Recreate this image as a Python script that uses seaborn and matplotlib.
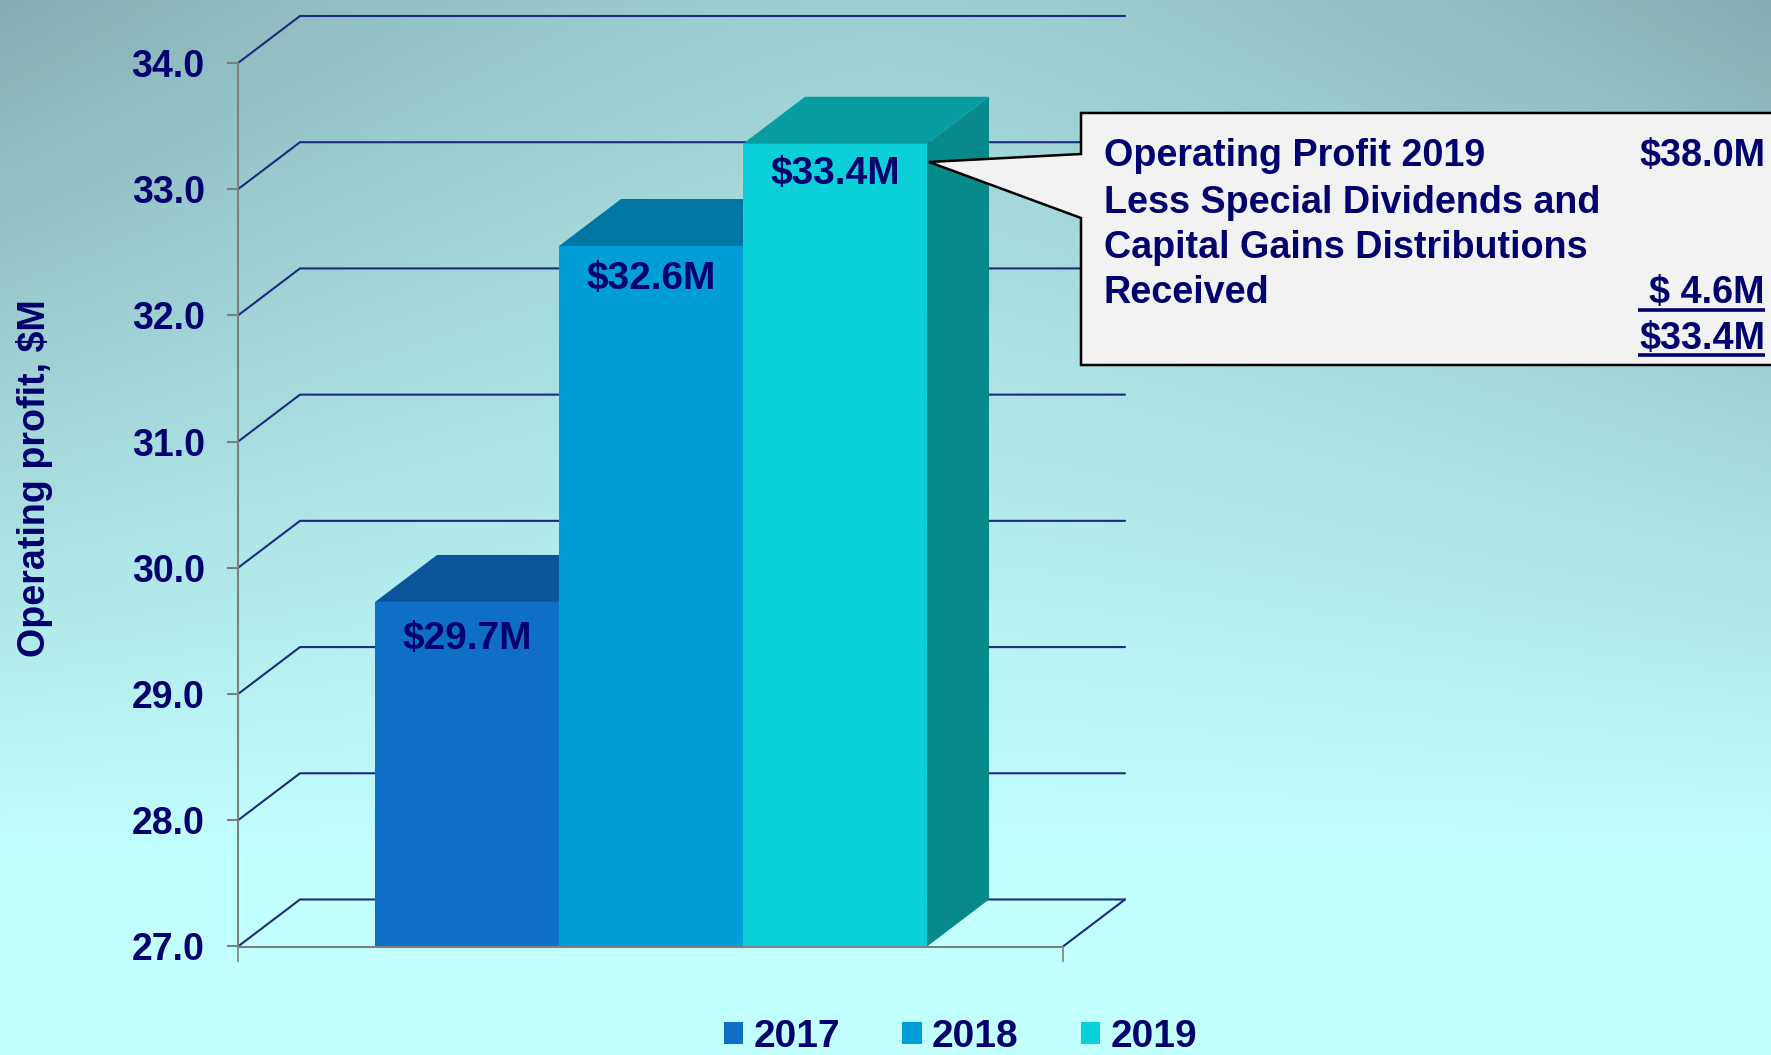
import numpy as np
import pandas as pd
import matplotlib
matplotlib.use('Agg')
import matplotlib.pyplot as plt
from matplotlib.patches import Patch, Polygon
import seaborn as sns

years = ['2017', '2018', '2019']
profit = [29.73, 32.55, 33.36]
bar_labels = ['$29.7M', '$32.6M', '$33.4M']
y_ticks = [27, 28, 29, 30, 31, 32, 33, 34]
front_colors = ['#0f6fc6', '#009dd9', '#0bd0d9']
top_colors = ['#0a5599', '#0076a3', '#089ca3']
side_color = '#088a8d'
navy = '#00006e'
grid_color = '#1c2a80'
axis_gray = '#7f7f7f'

callout_left = ['Operating Profit 2019', 'Less Special Dividends and', 'Capital Gains Distributions', 'Received']
callout_right = ['$38.0M', '', '', '$ 4.6M', '$33.4M']

sns.set_theme(style='white')
plt.rcParams['font.family'] = ['Liberation Sans', 'DejaVu Sans']

W, H = 1771, 1055
fig = plt.figure(figsize=(W / 100, H / 100), dpi=100)

# background gradient, dark in the top corners and pale towards the bottom
bg = fig.add_axes([0, 0, 1, 1], zorder=0)
xx, yy = np.meshgrid(np.arange(W), np.arange(H))
v_part = np.clip(1 - yy / 850, 0, 1)
u_part = np.abs(xx - 885) / 885
t = (v_part * (0.6 + 0.4 * u_part ** 1.5))[..., None]
pale = np.array([194, 255, 255]) / 255
dark = np.array([132, 174, 179]) / 255
bg.imshow(pale + (dark - pale) * t, aspect='auto', interpolation='bilinear')
bg.axis('off')

# main axes
ax = fig.add_axes([238 / W, 1 - 946.5 / H, 825 / W, 883.5 / H], zorder=1)
ax.patch.set_alpha(0)

df = pd.DataFrame({'year': years, 'profit': profit})
sns.barplot(data=df, x='year', y='profit', hue='year', palette=front_colors, hue_order=years,
            width=1, dodge=False, legend=False, saturation=1, ax=ax)

x_left = -1.245
x_right = 3.239
dx = 62 / 184
dy = 47 / 126.2
ax.set_xlim(x_left, x_right)
ax.set_ylim(27, 34)

# back wall lines
for v in y_ticks:
    ax.plot([x_left, x_left + dx, x_right + dx], [v, v + dy, v + dy], color=grid_color, lw=1.5,
            clip_on=False, zorder=1, solid_joinstyle='miter')
ax.plot([x_right + dx, x_right], [27 + dy, 27], color=grid_color, lw=1.5, clip_on=False, zorder=1)

# 3d faces, each bar sits over the top of the one before
label_drop = [0.29, 0.26, 0.24]
for i, container in enumerate(ax.containers):
    for bar in container:
        bar.set_zorder(2 * i + 3)
        bar.set_linewidth(0)
    v = profit[i]
    ax.add_patch(Polygon([(i - 0.5, v), (i - 0.5 + dx, v + dy), (i + 0.5 + dx, v + dy), (i + 0.5, v)],
                         facecolor=top_colors[i], edgecolor='none', clip_on=False, zorder=2 * i + 2))
    ax.text(i, v - label_drop[i], bar_labels[i], ha='center', va='center', color=navy, fontsize=28,
            fontweight='bold', zorder=10)

last = len(profit) - 1
ax.add_patch(Polygon([(last + 0.5, 27), (last + 0.5 + dx, 27 + dy), (last + 0.5 + dx, profit[last] + dy),
                      (last + 0.5, profit[last])], facecolor=side_color, edgecolor='none', clip_on=False, zorder=8))

ax.set_yticks(y_ticks)
ax.set_yticklabels([f'{v:.1f}' for v in y_ticks], fontsize=27, fontweight='bold', color=navy)
ax.set_xticks([x_left, x_right])
ax.set_xticklabels(['', ''])
ax.tick_params(axis='y', left=True, length=8, width=1.5, color=axis_gray, pad=16)
ax.tick_params(axis='x', bottom=True, length=11, width=1.2, color=axis_gray)
ax.set_xlabel('')
ax.set_ylabel('Operating profit, $M', fontsize=27.1, fontweight='bold', color=navy)
ax.yaxis.set_label_coords(-0.224, 0.53)
sns.despine(ax=ax)
for s in ['left', 'bottom']:
    ax.spines[s].set_color(axis_gray)
    ax.spines[s].set_linewidth(1.5)
    ax.spines[s].set_zorder(9)

handles = [Patch(facecolor=c, edgecolor='none', label=y) for c, y in zip(front_colors, years)]
ax.legend(handles=handles, loc='center left', bbox_to_anchor=(724 / W, 1 - 1037 / H),
          bbox_transform=fig.transFigure, ncol=3, frameon=False, borderpad=0, borderaxespad=0,
          handlelength=0.5, handleheight=0.5, handletextpad=0.26, columnspacing=1.6,
          prop={'size': 28, 'weight': 'bold'}, labelcolor=navy)

# callout box, drawn in pixel coordinates on top of everything
over = fig.add_axes([0, 0, 1, 1], zorder=2)
over.set_xlim(0, W)
over.set_ylim(H, 0)
over.axis('off')
over.add_patch(Polygon([(1081, 113), (W + 5, 113), (W + 5, 365), (1081, 365), (1081, 218), (929, 162), (1081, 154)],
                       closed=True, facecolor='#f2f2f2', edgecolor='black', lw=1.8, joinstyle='miter'))
line_y = [156, 203, 248, 293, 339]
for s, y in zip(callout_left, line_y):
    over.text(1104, y, s, ha='left', va='center', color=navy, fontsize=27.2, fontweight='bold')
for s, y in zip(callout_right, line_y):
    over.text(1765, y, s, ha='right', va='center', color=navy, fontsize=27.2, fontweight='bold')
for y in [310, 355]:
    over.plot([1638, 1765], [y, y], color=navy, lw=2.6, solid_capstyle='butt')

fig.savefig('out.png', dpi=100)
